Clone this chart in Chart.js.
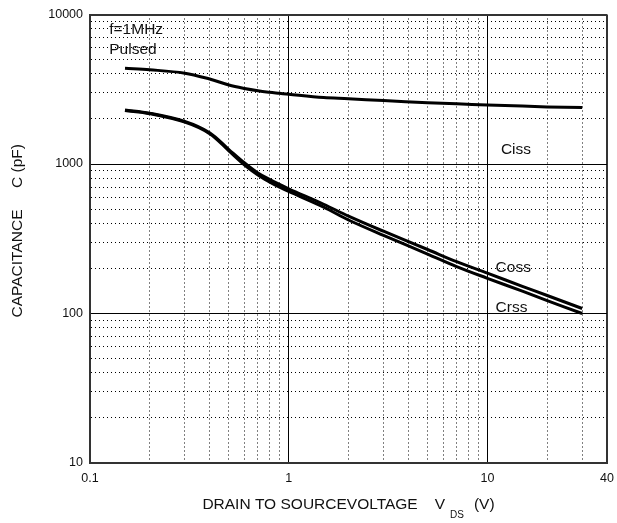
<!DOCTYPE html>
<html>
<head>
<meta charset="utf-8">
<title>Capacitance vs VDS</title>
<script src="https://cdn.jsdelivr.net/npm/chart.js@4.4.1/dist/chart.umd.min.js"></script>
<style>
  html, body { margin: 0; padding: 0; background: #fff; }
  #wrap { width: 617px; height: 523px; }
</style>
</head>
<body>
<div id="wrap"><canvas id="capChart"></canvas></div>
<script>
const vds  = [0.15, 0.2, 0.3, 0.4, 0.5, 0.6, 0.7, 0.8, 0.9, 1, 1.5, 2, 3, 5, 7, 10, 15, 20, 30];
// capacitances, pF
const ciss = [4370, 4270, 4050, 3700, 3375, 3200, 3090, 3020, 2970, 2925, 2780, 2735, 2655, 2570, 2525, 2483, 2440, 2410, 2385];
const coss = [2300, 2190, 1930, 1620, 1250, 1015, 870, 790, 730, 682, 538, 448, 355, 268, 222, 186, 152, 132, 108];
const crss = [2280, 2170, 1905, 1595, 1225, 985, 845, 760, 700, 655, 515, 422, 333, 250, 206, 172, 141, 122, 100];

const curveNames = ['Ciss', 'Coss', 'Crss'];
const xTickLabels = ['0.1', '1', '10', '40'];
const yTickLabels = ['10', '100', '1000', '10000'];
const xMajorLines = [1, 10];
const yMajorLines = [100, 1000];

// text notes placed in data coordinates
const notes = [
    { text: 'f=1MHz', x: 0.125, y: 7950 },
    { text: 'Pulsed', x: 0.125, y: 5850 },
    { text: curveNames[0], x: 11.7, y: 1240 },
    { text: curveNames[1], x: 11.0, y: 201 },
    { text: curveNames[2], x: 11.0, y: 109 }
];

// log grid: 1..9 of every decade
function logTicks(min, max) {
    const out = [];
    for (let e = Math.floor(Math.log10(min)); e <= Math.ceil(Math.log10(max)); e++) {
        for (let m = 1; m <= 9; m++) {
            const v = parseFloat((m * Math.pow(10, e)).toPrecision(3));
            if (v >= min && v <= max) out.push(v);
        }
    }
    if (out[out.length - 1] !== max) out.push(max);
    return out;
}
const xTicks = logTicks(0.1, 40);
const yTicks = logTicks(10, 10000);

const FONT = '"Liberation Sans", Arial, Helvetica, sans-serif';
const EDGE = '#333';

function lineKind(ctx, majors, edges) {
    if (!ctx.tick) return 'edge';
    const v = ctx.tick.value;
    if (edges.includes(v)) return 'edge';
    if (majors.includes(v)) return 'major';
    return 'minor';
}

function axisGrid(majors, edges) {
    return {
        drawTicks: false,
        color: ctx => lineKind(ctx, majors, edges) === 'edge' ? EDGE : '#000',
        lineWidth: ctx => lineKind(ctx, majors, edges) === 'edge' ? 2 : 1
    };
}

function axisBorder(majors, edges) {
    return {
        display: true,
        color: EDGE,
        width: 2,
        dash: ctx => lineKind(ctx, majors, edges) === 'minor' ? [1, 3] : []
    };
}

// axis titles and curve notes
const textPlugin = {
    id: 'textPlugin',
    afterDraw(chart) {
        const { ctx, chartArea, scales } = chart;
        const x = scales.x, y = scales.y;
        ctx.save();
        ctx.fillStyle = '#111';
        ctx.font = '15.5px ' + FONT;
        ctx.textBaseline = 'middle';
        ctx.textAlign = 'left';
        notes.forEach(n => {
            ctx.fillText(n.text, x.getPixelForValue(n.x), y.getPixelForValue(n.y));
        });

        // y title
        ctx.save();
        ctx.translate(18, (chartArea.top + chartArea.bottom) / 2 - 8);
        ctx.rotate(-Math.PI / 2);
        ctx.textAlign = 'center';
        ctx.fillText('CAPACITANCE     C (pF)', 0, 0);
        ctx.restore();

        // x title with subscript
        const big = '15.5px ' + FONT, small = '10px ' + FONT;
        const parts = [
            { t: 'DRAIN TO SOURCEVOLTAGE', f: big, dy: 0, gap: 17 },
            { t: 'V', f: big, dy: 0, gap: 5 },
            { t: 'DS', f: small, dy: 10, gap: 10 },
            { t: '(V)', f: big, dy: 0, gap: 0 }
        ];
        let total = 0;
        parts.forEach(p => { ctx.font = p.f; p.w = ctx.measureText(p.t).width; total += p.w + p.gap; });
        let px = (chartArea.left + chartArea.right) / 2 - total / 2;
        const py = 505;
        parts.forEach(p => {
            ctx.font = p.f;
            ctx.fillText(p.t, px, py + p.dy);
            px += p.w + p.gap;
        });
        ctx.restore();
    }
};

const toPoints = arr => vds.map((v, i) => ({ x: v, y: arr[i] }));

new Chart(document.getElementById('capChart'), {
    type: 'line',
    data: {
        datasets: [ciss, coss, crss].map((arr, i) => ({
            label: curveNames[i],
            data: toPoints(arr),
            borderColor: '#000',
            borderWidth: 3,
            pointRadius: 0,
            tension: 0.35,
            fill: false
        }))
    },
    options: {
        responsive: true,
        maintainAspectRatio: false,
        devicePixelRatio: 1,
        animation: false,
        layout: { padding: { top: 14, right: 10, left: 0, bottom: 0 } },
        plugins: {
            legend: { display: false },
            tooltip: { enabled: false }
        },
        scales: {
            x: {
                type: 'logarithmic',
                min: 0.1,
                max: 40,
                afterBuildTicks: s => { s.ticks = xTicks.map(v => ({ value: v })); },
                afterFit: s => {
                    s.height = 60;
                    s.paddingLeft = 0;
                    s.paddingRight = 0;
                },
                ticks: {
                    autoSkip: false,
                    maxRotation: 0,
                    padding: 8,
                    color: '#111',
                    font: { family: FONT, size: 12.5 },
                    callback: v => xTickLabels.includes(String(v)) ? String(v) : ''
                },
                grid: axisGrid(xMajorLines, [0.1, 40]),
                border: axisBorder(xMajorLines, [0.1, 40])
            },
            y: {
                type: 'logarithmic',
                min: 10,
                max: 10000,
                afterBuildTicks: s => { s.ticks = yTicks.map(v => ({ value: v })); },
                afterFit: s => { s.width = 90; },
                ticks: {
                    autoSkip: false,
                    padding: 7,
                    color: '#111',
                    font: { family: FONT, size: 12.5 },
                    callback: v => yTickLabels.includes(String(v)) ? String(v) : ''
                },
                grid: axisGrid(yMajorLines, [10, 10000]),
                border: axisBorder(yMajorLines, [10, 10000])
            }
        }
    },
    plugins: [textPlugin]
});
</script>
</body>
</html>
